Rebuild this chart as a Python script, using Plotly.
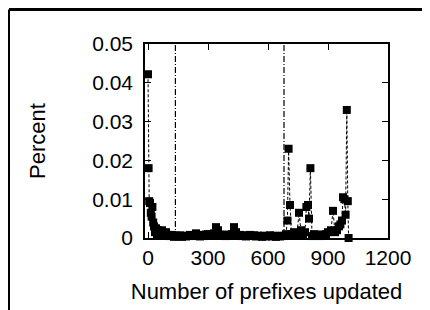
import plotly.graph_objects as go

# Data
prefixes = [0, 3, 6, 10, 14, 18, 22, 26, 30, 35, 40, 45, 50, 60, 70, 80, 90, 100,
            110, 120, 130, 140, 150, 160, 170, 180, 190, 200, 210, 220, 230, 240,
            250, 260, 270, 280, 290, 300, 310, 320, 330, 340, 350, 360, 370, 380,
            390, 400, 410, 420, 430, 440, 450, 460, 470, 480, 490, 500, 510, 520,
            530, 540, 550, 560, 570, 580, 590, 600, 610, 620, 630, 640, 650, 660,
            670, 680, 690, 697, 703, 710, 718, 730, 745, 755, 765, 775, 785, 792,
            800, 805, 812, 820, 830, 840, 850, 860, 870, 880, 890, 900, 915, 925,
            935, 945, 955, 962, 970, 975, 982, 988, 994, 999, 1003]
percent = [0.0422, 0.018, 0.0095, 0.009, 0.0065, 0.0055, 0.008, 0.004, 0.003,
           0.0015, 0.0025, 0.001, 0.002, 0.0015, 0.002, 0.001, 0.0015, 0.0008,
           0.0005, 0.0008, 0.0003, 0.0006, 0.0004, 0.0007, 0.0003, 0.0005, 0.0004,
           0.0006, 0.0008, 0.0005, 0.0007, 0.0012, 0.0006, 0.0004, 0.0008, 0.0005,
           0.0009, 0.001, 0.0006, 0.0008, 0.0012, 0.0028, 0.002, 0.0008, 0.0006,
           0.0009, 0.0005, 0.0007, 0.0006, 0.0010, 0.0028, 0.0015, 0.0006, 0.0008,
           0.0005, 0.0007, 0.0004, 0.0006, 0.0008, 0.0005, 0.0007, 0.0004, 0.0006,
           0.0005, 0.0003, 0.0006, 0.0004, 0.0005, 0.0007, 0.0004, 0.0006, 0.0003,
           0.0005, 0.0004, 0.0006, 0.0005, 0.001, 0.0045, 0.023, 0.0085, 0.001,
           0.0015, 0.001, 0.0065, 0.002, 0.0008, 0.0015, 0.008, 0.0085, 0.005,
           0.018, 0.0005, 0.001, 0.0006, 0.0008, 0.0005, 0.0009, 0.0006, 0.001,
           0.0015, 0.002, 0.007, 0.0015, 0.002, 0.003, 0.0035, 0.0045, 0.0105,
           0.01, 0.006, 0.033, 0.0095, 0.0]
marker_lines = [137, 680]
x_ticks = [0, 300, 600, 900, 1200]
y_ticks = [0, 0.01, 0.02, 0.03, 0.04, 0.05]
y_tick_labels = ["0", "0.01", "0.02", "0.03", "0.04", "0.05"]

W, H = 422, 302
L, T = 137, 36
R = W - (388 - 8)
B = H - (238 - 8)
pw, ph = W - L - R, H - T - B

fig = go.Figure()

for xv in marker_lines:
    fig.add_trace(go.Scatter(
        x=[xv, xv], y=[y_ticks[0], y_ticks[-1]], mode="lines",
        line=dict(color="black", width=1.2, dash="6px,2px,1px,2px"),
        hoverinfo="skip", showlegend=False))

fig.add_trace(go.Scatter(
    x=prefixes, y=percent, mode="lines+markers",
    line=dict(color="black", width=1, dash="3px,2px"),
    marker=dict(symbol="square", size=8, color="black"),
    cliponaxis=False, showlegend=False))

fx0 = (-L + 1.0) / pw
fy0 = 1 + (T - 1.5) / ph

fig.update_layout(
    width=W, height=H,
    margin=dict(l=L, r=R, t=T, b=B),
    paper_bgcolor="white", plot_bgcolor="white",
    font=dict(family="Liberation Sans, Arial, sans-serif", size=21, color="black"),
    xaxis=dict(range=[-15, 1200], tickvals=x_ticks, ticks="inside", ticklen=6,
               tickwidth=1, tickcolor="black", showline=True, linecolor="black",
               linewidth=1.5, mirror="ticks", showgrid=False, zeroline=False,
               tickfont=dict(size=21), automargin=False,
               title=dict(text="Number of prefixes updated", standoff=16,
                          font=dict(size=22))),
    yaxis=dict(range=[0, 0.05], tickvals=y_ticks, ticktext=y_tick_labels,
               ticks="inside", ticklen=6, tickwidth=1, tickcolor="black",
               showline=True, linecolor="black", linewidth=1.5, mirror="ticks",
               showgrid=False, zeroline=False, tickfont=dict(size=21),
               ticklabelstandoff=6, automargin=False,
               title=dict(text="Percent", standoff=40, font=dict(size=22))),
    shapes=[
        dict(type="line", xref="paper", yref="paper", x0=fx0, x1=1.5,
             y0=fy0, y1=fy0, line=dict(color="black", width=3)),
        dict(type="line", xref="paper", yref="paper", x0=fx0, x1=fx0,
             y0=fy0, y1=-0.5, line=dict(color="black", width=2)),
    ],
)

fig.write_html("out.html", config={"displayModeBar": False},
               post_script="document.documentElement.style.overflow='hidden';"
                           "document.body.style.overflow='hidden';")
